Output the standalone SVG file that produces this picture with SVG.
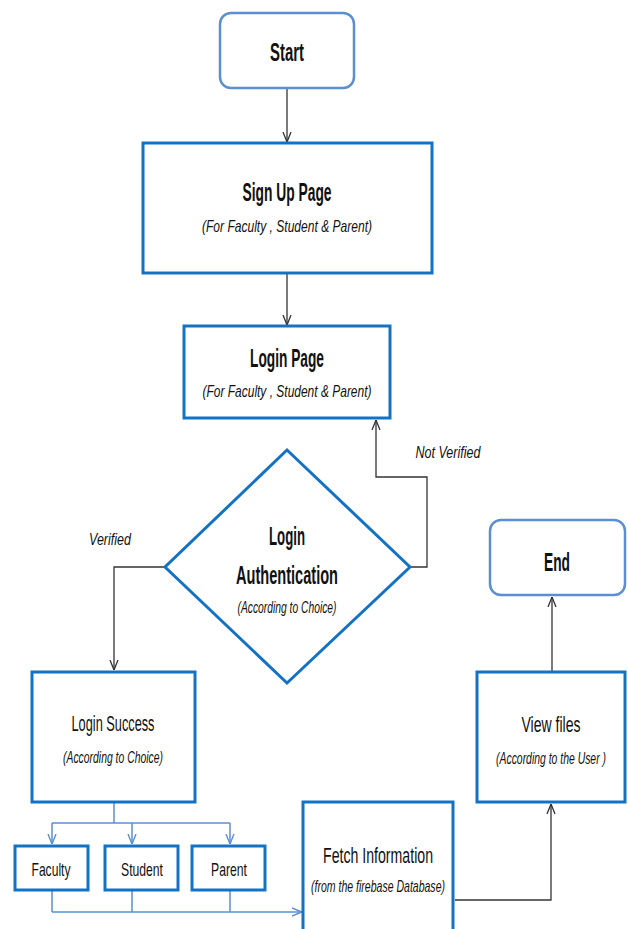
<svg xmlns="http://www.w3.org/2000/svg" width="628" height="929" viewBox="0 0 628 929">
<style>
.bx{fill:#fff;stroke:#1472c4;stroke-width:3}
.rd{fill:#fff;stroke:#5b8fd2;stroke-width:2.5}
.t{font-family:"Liberation Sans Narrow","Liberation Sans",sans-serif;fill:#111;text-anchor:middle}
.b{font-weight:bold;font-size:25px}
.r{font-size:22px}
.s{font-size:19px}
.i{font-style:italic;font-size:17px}
.c{fill:none;stroke:#333;stroke-width:1.3}
.lc{fill:none;stroke:#5b8fd2;stroke-width:1.5}
</style>
<defs>
<marker id="a" viewBox="0 0 10 10" refX="10" refY="5" markerWidth="10" markerHeight="10" markerUnits="userSpaceOnUse" orient="auto">
<path d="M0,1 L10,5 L0,9" fill="none" stroke="#333" stroke-width="1.3"/>
</marker>
<marker id="al" viewBox="0 0 10 10" refX="10" refY="5" markerWidth="10" markerHeight="10" markerUnits="userSpaceOnUse" orient="auto">
<path d="M0,1 L10,5 L0,9" fill="none" stroke="#5b8fd2" stroke-width="1.4"/>
</marker>
</defs>
<g id="connectors">
<path class="c" d="M287,88 V142" marker-end="url(#a)"/>
<path class="c" d="M287,273 V325" marker-end="url(#a)"/>
<path class="c" d="M410,567 H427 V477 H376 V420" marker-end="url(#a)"/>
<path class="c" d="M165,567 H114 V670" marker-end="url(#a)"/>
<path class="lc" d="M114,803 V823"/>
<path class="lc" d="M52,823 H230"/>
<path class="lc" d="M52,823 V844" marker-end="url(#al)"/>
<path class="lc" d="M132,823 V844" marker-end="url(#al)"/>
<path class="lc" d="M230,823 V844" marker-end="url(#al)"/>
<path class="lc" d="M52,891 V912 M132,891 V912 M230,891 V912"/>
<path class="lc" d="M52,912 H302" marker-end="url(#al)"/>
<path class="c" d="M455,900 H551 V804" marker-end="url(#a)"/>
<path class="c" d="M552,672 V597" marker-end="url(#a)"/>
</g>
<g id="start">
<rect class="rd" x="220" y="13" width="134" height="75" rx="11"/>
<text class="t b" x="287" y="61" textLength="34" lengthAdjust="spacingAndGlyphs">Start</text>
</g>
<g id="signup">
<rect class="bx" x="143" y="143" width="289" height="130"/>
<text class="t b" x="287" y="201" textLength="89" lengthAdjust="spacingAndGlyphs">Sign Up Page</text>
<text class="t i" x="287" y="232" textLength="170" lengthAdjust="spacingAndGlyphs">(For Faculty , Student &amp; Parent)</text>
</g>
<g id="login">
<rect class="bx" x="184" y="326" width="206" height="92"/>
<text class="t b" x="287" y="367" textLength="74" lengthAdjust="spacingAndGlyphs">Login Page</text>
<text class="t i" x="287" y="397" textLength="169" lengthAdjust="spacingAndGlyphs">(For Faculty , Student &amp; Parent)</text>
</g>
<g id="auth">
<polygon class="bx" points="287,450 410,567 287,683 165,567"/>
<text class="t b" x="287" y="545" textLength="36" lengthAdjust="spacingAndGlyphs">Login</text>
<text class="t b" x="287" y="584" textLength="102" lengthAdjust="spacingAndGlyphs">Authentication</text>
<text class="t i" x="287" y="613" font-size="16" textLength="99" lengthAdjust="spacingAndGlyphs">(According to Choice)</text>
</g>
<g id="labels">
<text class="t i" x="110" y="545" textLength="42" lengthAdjust="spacingAndGlyphs">Verified</text>
<text class="t i" x="448" y="458" textLength="65" lengthAdjust="spacingAndGlyphs">Not Verified</text>
</g>
<g id="success">
<rect class="bx" x="32" y="672" width="163" height="130"/>
<text class="t r" x="113" y="731" textLength="83" lengthAdjust="spacingAndGlyphs">Login Success</text>
<text class="t i" x="113" y="763" textLength="100" lengthAdjust="spacingAndGlyphs">(According to Choice)</text>
</g>
<g id="end">
<rect class="rd" x="490" y="520" width="135" height="75" rx="11"/>
<text class="t b" x="557" y="571" textLength="26" lengthAdjust="spacingAndGlyphs">End</text>
</g>
<g id="view">
<rect class="bx" x="477" y="672" width="148" height="130"/>
<text class="t r" x="551" y="732" textLength="59" lengthAdjust="spacingAndGlyphs">View files</text>
<text class="t i" x="551" y="764" textLength="110" lengthAdjust="spacingAndGlyphs">(According to the User )</text>
</g>
<g id="fetch">
<rect class="bx" x="303" y="802" width="150" height="140"/>
<text class="t r" x="378" y="863" textLength="110" lengthAdjust="spacingAndGlyphs">Fetch Information</text>
<text class="t i" x="378" y="892" textLength="134" lengthAdjust="spacingAndGlyphs">(from the firebase Database)</text>
</g>
<g id="faculty">
<rect class="bx" x="15" y="846" width="73" height="44"/>
<text class="t s" x="51" y="876" textLength="39" lengthAdjust="spacingAndGlyphs">Faculty</text>
</g>
<g id="student">
<rect class="bx" x="105" y="846" width="73" height="44"/>
<text class="t s" x="142" y="876" textLength="42" lengthAdjust="spacingAndGlyphs">Student</text>
</g>
<g id="parent">
<rect class="bx" x="192" y="846" width="73" height="44"/>
<text class="t s" x="229" y="876" textLength="36" lengthAdjust="spacingAndGlyphs">Parent</text>
</g>
</svg>
